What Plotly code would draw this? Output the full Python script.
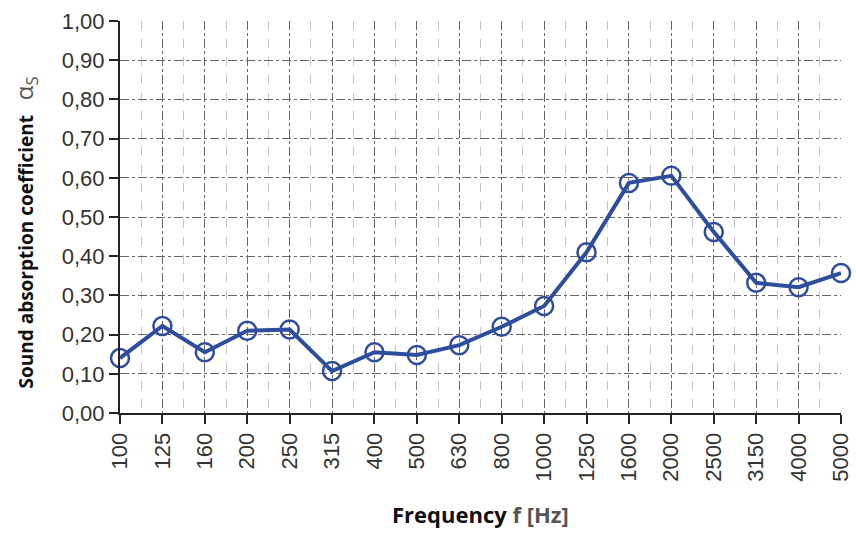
import plotly.graph_objects as go

freqs = ["100", "125", "160", "200", "250", "315", "400", "500", "630", "800",
         "1000", "1250", "1600", "2000", "2500", "3150", "4000", "5000"]
alpha = [0.14, 0.222, 0.155, 0.21, 0.213, 0.107, 0.155, 0.148, 0.173, 0.22,
         0.273, 0.41, 0.587, 0.605, 0.462, 0.332, 0.321, 0.357]
y_ticks = [0.0, 0.1, 0.2, 0.3, 0.4, 0.5, 0.6, 0.7, 0.8, 0.9, 1.0]
y_tick_labels = ["0,00", "0,10", "0,20", "0,30", "0,40", "0,50", "0,60", "0,70", "0,80", "0,90", "1,00"]

idx = list(range(len(freqs)))
blue = "#2f4d9c"
tickfont = dict(family="Liberation Sans", size=22, color="#333333")

fig = go.Figure()
fig.add_trace(go.Scatter(
    x=idx, y=alpha, mode="lines+markers",
    line=dict(color=blue, width=4),
    marker=dict(symbol="circle-open", size=18, color=blue, line=dict(width=2.5, color=blue)),
    cliponaxis=False, showlegend=False,
))

fig.update_layout(
    width=856, height=533,
    margin=dict(l=120, r=15, t=21, b=120, autoexpand=False),
    paper_bgcolor="white", plot_bgcolor="white",
    font=dict(family="Liberation Sans", color="#333333", size=22),
    xaxis=dict(
        range=[0, len(freqs) - 1], automargin=False,
        tickmode="array", tickvals=idx, ticktext=freqs, tickangle=-90,
        tickfont=tickfont,
        showgrid=True, gridcolor="#666666", griddash="dashdot", gridwidth=1,
        minor=dict(dtick=0.5, tick0=0, showgrid=True, gridcolor="#c4c4c4", griddash="dash", gridwidth=1),
        showline=True, linecolor="#222222", linewidth=2,
        ticks="outside", ticklen=9, tickcolor="#222222", tickwidth=2,
        zeroline=False,
    ),
    yaxis=dict(
        range=[0, 1.0], automargin=False,
        tickmode="array", tickvals=y_ticks, ticktext=y_tick_labels,
        tickfont=tickfont,
        showgrid=True, gridcolor="#666666", griddash="dashdot", gridwidth=1,
        showline=True, linecolor="#222222", linewidth=2,
        ticks="outside", ticklen=9, tickcolor="#222222", tickwidth=2,
        zeroline=False,
    ),
    annotations=[
        dict(text="<b><span style='color:#111'>Frequency</span> <span style='color:#555'>f [Hz]</span></b>",
             xref="paper", yref="paper", x=0.5, y=-0.258, xanchor="center", yanchor="middle",
             showarrow=False, font=dict(family="Open Sans", size=22)),
        dict(text="<b><span style='color:#111'>Sound absorption coefficient</span></b>   <span style='color:#555;font-size:24px'>α<sub>S</sub></span>",
             xref="paper", yref="paper", x=-0.132, y=0.46, xanchor="center", yanchor="middle",
             textangle=-90, showarrow=False, font=dict(family="Open Sans", size=19)),
    ],
)

fig.write_html("out.html")
